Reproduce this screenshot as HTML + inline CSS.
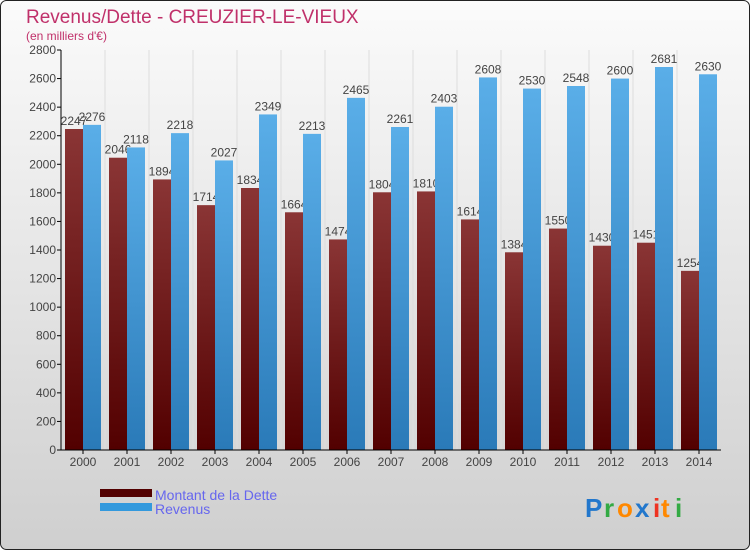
<!DOCTYPE html>
<html><head><meta charset="utf-8"><style>
body{margin:0;width:750px;height:550px;overflow:hidden;font-family:"Liberation Sans",sans-serif}
</style></head><body>
<svg id="chart" width="750" height="550" xmlns="http://www.w3.org/2000/svg">
<defs>
<linearGradient id="bg" x1="0" y1="0" x2="0" y2="1"><stop offset="0" stop-color="#fbfbfb"/><stop offset="1" stop-color="#cfcfcf"/></linearGradient>
<linearGradient id="gd" x1="0" y1="0" x2="0" y2="1"><stop offset="0" stop-color="#8a3535"/><stop offset="1" stop-color="#520000"/></linearGradient>
<linearGradient id="gr" x1="0" y1="0" x2="0" y2="1"><stop offset="0" stop-color="#5aaee8"/><stop offset="1" stop-color="#2a7ab8"/></linearGradient>
</defs>
<rect x="0.5" y="0.5" width="749" height="549" rx="6" fill="url(#bg)" stroke="#222"/>
<text x="26" y="23" font-size="19" fill="#c0306a">Revenus/Dette - CREUZIER-LE-VIEUX</text>
<text x="26" y="40" font-size="12" fill="#c0306a">(en milliers d'€)</text>
<g id="grid"></g><g id="bars"></g><g id="axes"></g>
<rect x="100" y="489" width="52" height="8" fill="#520000"/>
<rect x="100" y="503" width="52" height="8" fill="#3399dd"/>
<text x="155" y="500" font-size="14" fill="#6666ee">Montant de la Dette</text>
<text x="155" y="514" font-size="14" fill="#6666ee">Revenus</text>
<g font-size="26" font-weight="bold" font-family="'Liberation Sans',sans-serif">
<text x="585" y="517" fill="#2277cc">P</text><text x="604" y="517" fill="#33aa44">r</text><text x="617" y="517" fill="#ff8800">o</text><text x="635" y="517" fill="#2277cc">x</text><text x="653" y="517" fill="#ee3322">i</text><text x="661" y="517" fill="#ff8800">t</text><text x="675" y="517" fill="#33aa44">i</text>
</g>
</svg>
<script>
const years=["2000","2001","2002","2003","2004","2005","2006","2007","2008","2009","2010","2011","2012","2013","2014"];
const dette=[2247,2046,1894,1714,1834,1664,1474,1804,1810,1614,1384,1550,1430,1451,1254];
const revenus=[2276,2118,2218,2027,2349,2213,2465,2261,2403,2608,2530,2548,2600,2681,2630];
const yTicks=[0,200,400,600,800,1000,1200,1400,1600,1800,2000,2200,2400,2600,2800];
const NS="http://www.w3.org/2000/svg";
const x0=61,x1=721,y0=450,yTop=50,yMax=2800;
const step=(x1-x0)/years.length;
const y=v=>y0-(v/yMax)*(y0-yTop);
const xc=i=>x0+step*(i+0.5);
function mk(tag,attrs,parent){const e=document.createElementNS(NS,tag);for(const k in attrs)e.setAttribute(k,attrs[k]);document.getElementById(parent).appendChild(e);return e;}
years.forEach((yr,i)=>{
 if(i>0){const g=mk('line',{x1:x0+step*i,x2:x0+step*i,y1:yTop,y2:y0,stroke:'#ddd','stroke-width':1},'grid');
 
 }
 const c=xc(i);
 const b1=mk('rect',{x:c-18,y:y(dette[i]),width:18,height:y0-y(dette[i]),fill:'url(#gd)'},'bars');
 
 
 const t1=mk('text',{x:c-9,y:y(dette[i])-4,'font-size':12,'text-anchor':'middle',fill:'#444'},'bars');t1.textContent=dette[i];
 
 
 const b2=mk('rect',{x:c,y:y(revenus[i]),width:18,height:y0-y(revenus[i]),fill:'url(#gr)'},'bars');
 
 
 const t2=mk('text',{x:c+9,y:y(revenus[i])-4,'font-size':12,'text-anchor':'middle',fill:'#444'},'bars');t2.textContent=revenus[i];
 
 
 const xl=mk('text',{x:c,y:466,'font-size':12,'text-anchor':'middle',fill:'#444'},'axes');xl.textContent=yr;
 
 
 const tk=mk('line',{x1:c,x2:c,y1:y0,y2:y0+4,stroke:'#000'},'axes');
 
 
});
yTicks.forEach(v=>{
 const t=mk('text',{x:56,y:y(v)+4,'font-size':12,'text-anchor':'end',fill:'#444'},'axes');t.textContent=v;
 
 
 const l=mk('line',{x1:57,x2:x0,y1:y(v),y2:y(v),stroke:'#000'},'axes');
 
 
});
const ya=mk('line',{x1:x0,x2:x0,y1:yTop,y2:y0,stroke:'#000'},'axes');


const xa=mk('line',{x1:x0,x2:x1,y1:y0,y2:y0,stroke:'#000'},'axes');


</script>
</body></html>
